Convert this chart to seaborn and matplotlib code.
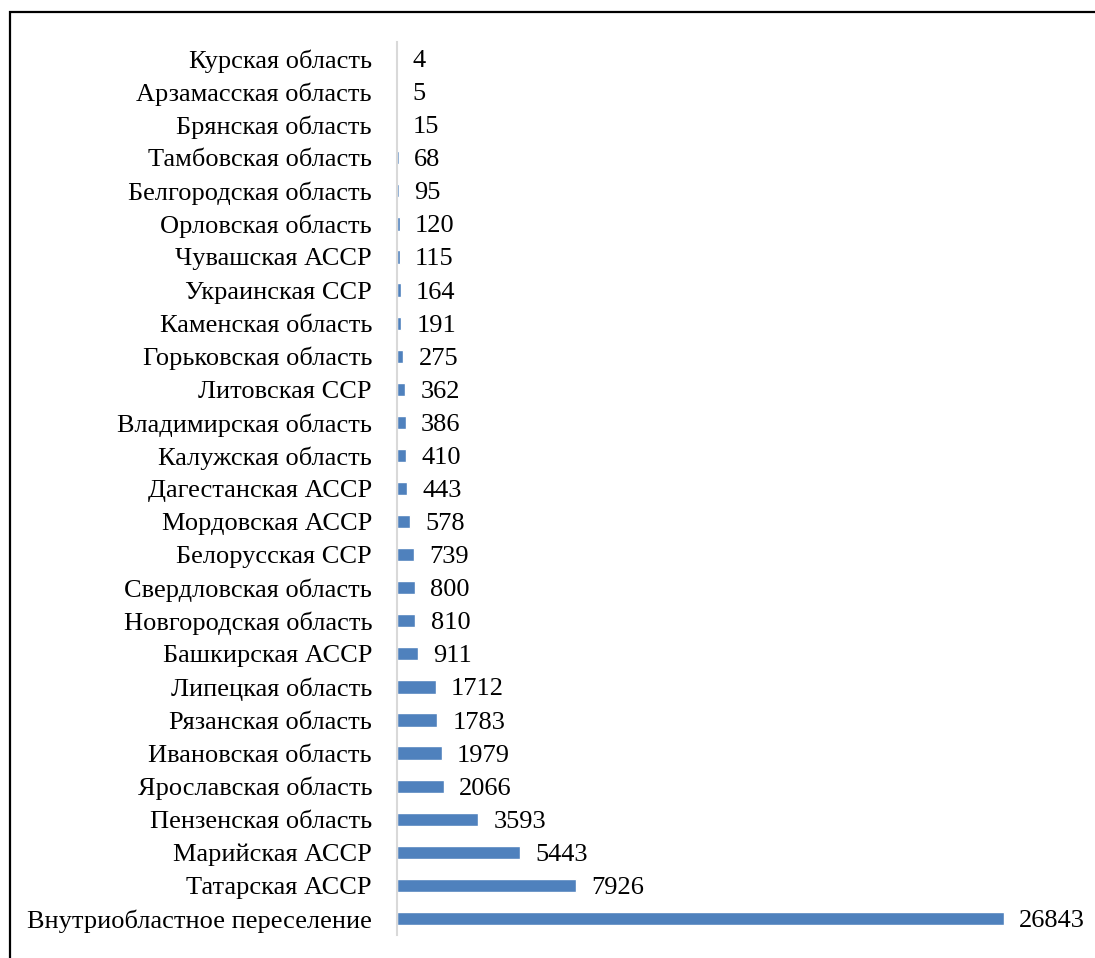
import matplotlib
matplotlib.use("Agg")
import matplotlib.pyplot as plt
from matplotlib.patches import Rectangle
import pandas as pd
import seaborn as sns

# regions, top to bottom as in the chart
regions = [
    "Курская область", "Арзамасская область", "Брянская область",
    "Тамбовская область", "Белгородская область", "Орловская область",
    "Чувашская АССР", "Украинская ССР", "Каменская область",
    "Горьковская область", "Литовская ССР", "Владимирская область",
    "Калужская область", "Дагестанская АССР", "Мордовская АССР",
    "Белорусская ССР", "Свердловская область", "Новгородская область",
    "Башкирская АССР", "Липецкая область", "Рязанская область",
    "Ивановская область", "Ярославская область", "Пензенская область",
    "Марийская АССР", "Татарская АССР", "Внутриобластное переселение",
]
counts = [4, 5, 15, 68, 95, 120, 115, 164, 191, 275, 362, 386, 410, 443,
          578, 739, 800, 810, 911, 1712, 1783, 1979, 2066, 3593, 5443,
          7926, 26843]

df = pd.DataFrame({"region": regions, "count": counts})

sns.set_style("white")
plt.rcParams["font.family"] = ["Liberation Serif", "DejaVu Serif"]
plt.rcParams["text.color"] = "black"
plt.rcParams["ytick.color"] = "black"

W, H = 1095, 958
fig = plt.figure(figsize=(W / 100, H / 100), dpi=100)
ax = fig.add_axes([397 / W, 1 - 935 / H, (W - 397) / W, (935 - 42) / H])

sns.barplot(data=df, x="count", y="region", order=regions, orient="h",
            color="#4f81bd", width=0.4, saturation=1, ax=ax)

labels = ax.bar_label(ax.containers[0], labels=[str(c) for c in counts],
                      padding=11, fontsize=19, color="black")
for t in labels:
    t.set_verticalalignment("center_baseline")

ax.set_xlim(0, 26843 * (W - 397) / (1004 - 397))
ax.set_ylim(len(regions) - 0.5, -0.5)
ax.set_xlabel("")
ax.set_ylabel("")
ax.set_xticks([])
ax.tick_params(axis="y", length=0, pad=18, labelsize=19, labelcolor="black")
for s in ["top", "right", "bottom"]:
    ax.spines[s].set_visible(False)
ax.spines["left"].set_color("#d9d9d9")
ax.spines["left"].set_linewidth(1.5)

# outer frame, cut off at the right and bottom edges
fig.patches.append(Rectangle((9.5 / W, -0.1), 1.2, 1.1 - 12.5 / H,
                             transform=fig.transFigure, fill=False,
                             edgecolor="black", linewidth=1.6))

fig.savefig("out.png", dpi=100)
